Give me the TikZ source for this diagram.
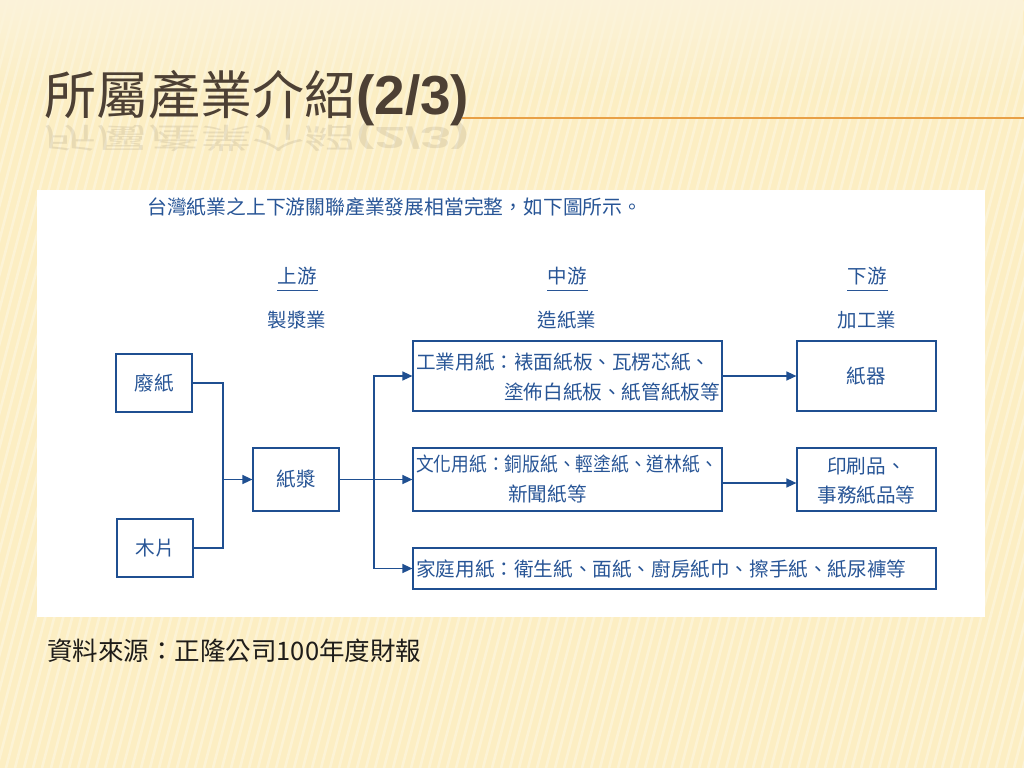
\documentclass[tikz,border=0pt]{standalone}
\usepackage{fontspec}
\usetikzlibrary{arrows.meta,fadings}
\newfontfamily\cjk{Noto Sans CJK TC}
\newfontfamily\latsans{Liberation Sans}
\definecolor{bgcream}{RGB}{252,238,195}
\definecolor{bgtop}{RGB}{251,243,218}
\definecolor{titlebrown}{RGB}{77,64,52}
\definecolor{ruleorange}{RGB}{232,160,70}
\definecolor{navy}{RGB}{31,79,145}
\definecolor{bluetext}{RGB}{40,85,150}
\definecolor{srcblack}{RGB}{30,28,25}
\tikzset{
  box/.style={draw=navy, line width=1.2pt, fill=white, inner sep=0pt},
  conn/.style={draw=navy, line width=1.4pt},
  arr/.style={conn, -{Triangle[length=10pt,width=9pt]}},
  btxt/.style={text=bluetext, font=\cjk\fontsize{19.6}{22}\selectfont, inner sep=0pt},
  head/.style={text=bluetext, font=\cjk\fontsize{19.5}{22}\selectfont, inner sep=0pt}
}
\begin{document}
\begin{tikzpicture}[x=1pt,y=-1pt]
\useasboundingbox (0,0) rectangle (1024,768);
% background
\fill[bgcream] (0,0) rectangle (1024,768);
\begin{scope}
\clip (0,0) rectangle (1024,768);
\foreach \i in {-300,-291,...,1100}
  \draw[white, opacity=0.3, line width=2.6pt] (\i,768) -- (\i+200,0);
\end{scope}
\fill[bgtop, path fading=south] (0,0) rectangle (1024,95);
% title
\draw[ruleorange, line width=1.3pt] (462,118) -- (1024,118);
\node[anchor=west, inner sep=0pt, text=titlebrown] (title) at (44,98)
  {\cjk\fontsize{52}{58}\selectfont 所屬產業介紹\latsans\bfseries\fontsize{55}{60}\selectfont (2/3)};
\node[anchor=west, inner sep=0pt, text=titlebrown, opacity=0.11] (refl) at (44,137)
  {\scalebox{1}[-0.55]{\cjk\fontsize{52}{58}\selectfont 所屬產業介紹\latsans\bfseries\fontsize{55}{60}\selectfont (2/3)}};
% white panel
\fill[white] (37,190) rectangle (985,617);
\node[anchor=west, text=bluetext, inner sep=0pt, font=\cjk\fontsize{19.8}{22}\selectfont] (sub) at (147,207)
  {台灣紙業之上下游關聯產業發展相當完整，如下圖所示。};
% column headers
\node[head] (h1) at (297,276) {上游};
\draw[bluetext, line width=0.9pt] (277,290) -- (318,290);
\node[head] (s1) at (297,320) {製漿業};
\node[head] (h2) at (567,276) {中游};
\draw[bluetext, line width=0.9pt] (547,290) -- (588,290);
\node[head] (s2) at (567,320) {造紙業};
\node[head] (h3) at (867,276) {下游};
\draw[bluetext, line width=0.9pt] (847,290) -- (888,290);
\node[head] (s3) at (867,320) {加工業};
% boxes
\node[box, minimum width=76pt, minimum height=58pt] (feizhi) at (154,383) {};
\node[btxt] at (feizhi.center) {廢紙};
\node[box, minimum width=76pt, minimum height=58pt] (mupian) at (155,548) {};
\node[btxt] at (mupian.center) {木片};
\node[box, minimum width=86pt, minimum height=63pt] (zhijiang) at (296,479.5) {};
\node[btxt] at (zhijiang.center) {紙漿};
\node[box, minimum width=309pt, minimum height=70pt] (gongye) at (567.5,376) {};
\node[btxt, anchor=west] at (416,362) {工業用紙：裱面紙板、瓦楞芯紙、};
\node[btxt, anchor=east] at (720,392) {塗佈白紙板、紙管紙板等};
\node[box, minimum width=309pt, minimum height=63pt] (wenhua) at (567.5,479.5) {};
\node[btxt, anchor=west] at (416,464) {\scalebox{0.905}[1]{文化用紙：銅版紙、輕塗紙、道林紙、}};
\node[btxt, anchor=west] at (508,494) {新聞紙等};
\node[box, minimum width=523pt, minimum height=41pt] (jiating) at (674.5,568.5) {};
\node[btxt, anchor=west] at (416,568.5) {家庭用紙：衛生紙、面紙、廚房紙巾、擦手紙、紙尿褲等};
\node[box, minimum width=139pt, minimum height=70pt] (zhiqi) at (866.5,376) {};
\node[btxt] at (zhiqi.center) {紙器};
\node[box, minimum width=139pt, minimum height=63pt] (yinshua) at (866.5,479.5) {};
\node[btxt] at (866.5,466) {印刷品、};
\node[btxt] at (866.5,495) {事務紙品等};
% connectors
\coordinate (j1) at (223,479.5);
\coordinate (j2) at (374,479.5);
\draw[conn] (feizhi.east) -| (j1);
\draw[conn] (mupian.east) -| (j1);
\draw[arr] (j1) -- (zhijiang.west);
\draw[conn] (zhijiang.east) -- (j2);
\draw[arr] (j2) |- (gongye.west);
\draw[arr] (j2) -- (wenhua.west);
\draw[arr] (j2) |- (jiating.west);
\draw[arr] (gongye.east) -- (zhiqi.west);
\draw[arr] ([yshift=-3.5pt]wenhua.east) -- ([yshift=-3.5pt]yinshua.west);
% source
\node[anchor=west, inner sep=0pt, text=srcblack, font=\cjk\fontsize{25.5}{30}\selectfont] (src) at (47,651)
  {資料來源：正隆公司100年度財報};
\end{tikzpicture}
\end{document}
